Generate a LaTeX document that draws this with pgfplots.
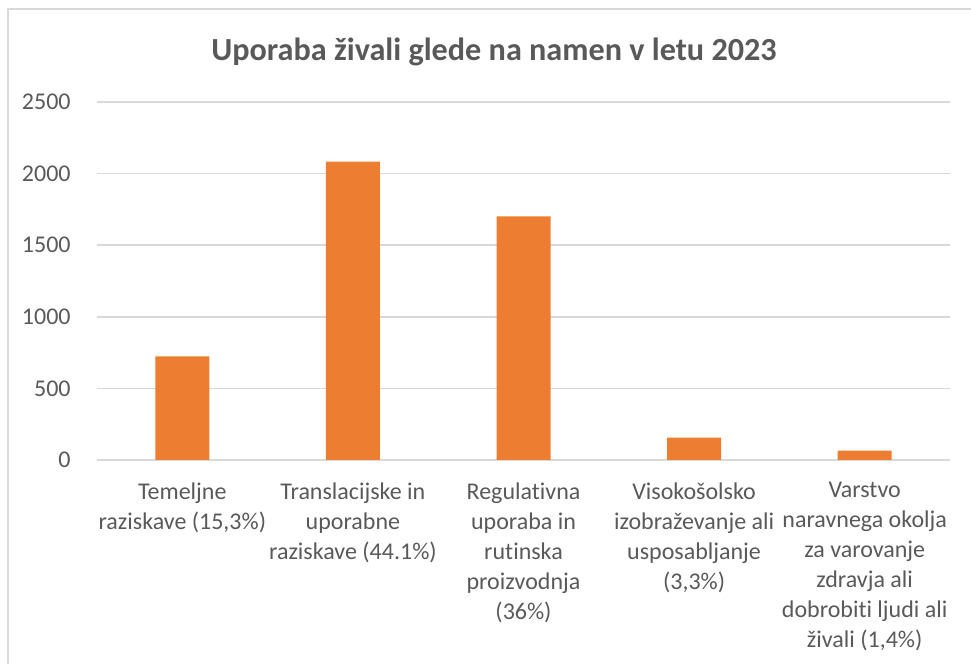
\documentclass[border=0pt]{standalone}
\usepackage{fontspec}
\setmainfont{Carlito}[Ligatures={NoCommon}]
\usepackage{pgfplots}
\pgfplotsset{compat=1.18}

\definecolor{barorange}{HTML}{ED7D31}
\definecolor{txtgray}{HTML}{595959}
\definecolor{gridgray}{HTML}{D9D9D9}

\begin{document}
\begin{tikzpicture}
% image is 971x664 px, 1px = 0.5pt
\useasboundingbox (0,0) rectangle (485.5pt,332pt);
\draw[gridgray, line width=0.8pt] (4pt,0) -- (4pt,327.5pt) -- (485.5pt,327.5pt);
\node[font=\fontsize{16.1}{19}\selectfont\bfseries, text=txtgray] at (247pt,306pt)
  {Uporaba živali glede na namen v letu 2023};
\begin{axis}[
    at={(48.5pt,102pt)}, anchor=south west,
    scale only axis,
    width=426.5pt, height=179pt,
    ybar, bar width=27pt,
    xmin=-0.5, xmax=4.5,
    ymin=0, ymax=2500,
    ytick={0,500,1000,1500,2000,2500},
    xtick=data,
    xticklabels={%
      {Temeljne\\raziskave (15,3\%)},
      {Translacijske in\\uporabne\\raziskave (44.1\%)},
      {Regulativna\\uporaba in\\rutinska\\proizvodnja\\(36\%)},
      {Visokošolsko\\izobraževanje ali\\usposabljanje\\(3,3\%)},
      {Varstvo\\naravnega okolja\\za varovanje\\zdravja ali\\dobrobiti ljudi ali\\živali (1,4\%)}},
    axis line style={draw=none},
    major tick length=0pt,
    ymajorgrids, major grid style={gridgray, line width=0.8pt},
    tick label style={font=\fontsize{12}{15}\selectfont, text=txtgray},
    /pgf/number format/assume math mode=true,
    yticklabel style={inner sep=0pt, xshift=-13pt},
    xticklabel style={align=center, anchor=north, inner sep=0pt, yshift=-11pt},
    scaled y ticks=false,
    y tick label style={/pgf/number format/1000 sep={}},
    clip=false,
]
\addplot[fill=barorange, draw=none] coordinates {(0,723) (1,2084) (2,1701) (3,156) (4,66)};
\end{axis}
\end{tikzpicture}
\end{document}
